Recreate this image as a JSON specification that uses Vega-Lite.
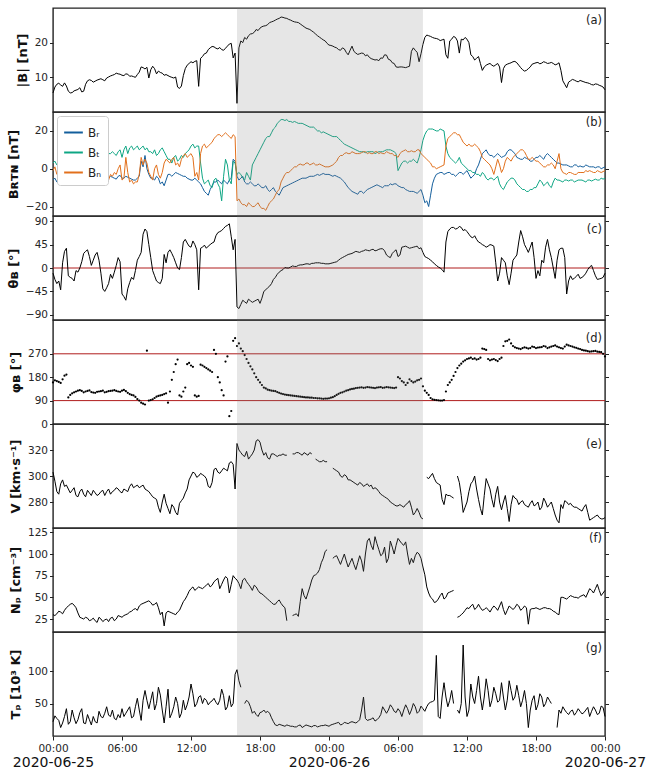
{
"$schema": "https://vega.github.io/schema/vega-lite/v6.json",
"background": "white",
"padding": {"left": 6, "top": 7, "right": 49, "bottom": 5},
"bounds": "flush",
"spacing": 0,
"resolve": {"legend": {"color": "independent"}},
"config": {
  "font": "DejaVu Sans",
  "view": {"stroke": "#222222", "strokeWidth": 1.4},
  "axis": {"labelFont": "DejaVu Sans", "labelFontSize": 10.5, "labelColor": "#262626", "tickColor": "#222222", "tickSize": 3.5, "tickWidth": 1, "domain": false, "grid": false, "titleFont": "DejaVu Sans", "titleFontSize": 13, "titleFontWeight": "bold", "titleColor": "#111111", "titlePadding": 5, "labelPadding": 2}
},
"data": {"values": [
{"t":"2020-06-25T00:00","B":5.5,"R":-6,"T":3,"N":-1,"th":-10,"ph":160,"V":303,"Np":30,"Tp":22},
{"t":"2020-06-25T00:10","B":7.2,"R":-5,"T":4,"N":1,"th":-22,"ph":168,"V":296,"Np":29,"Tp":31},
{"t":"2020-06-25T00:20","B":8.0,"R":-7,"T":2,"N":-3,"th":-30,"ph":165,"V":288,"Np":31,"Tp":27},
{"t":"2020-06-25T00:30","B":8.3,"R":-7.5,"T":1,"N":-4,"th":-25,"ph":162,"V":286,"Np":34,"Tp":24},
{"t":"2020-06-25T00:40","B":7.8,"R":-6.5,"T":0,"N":-2,"th":-42,"ph":158,"V":294,"Np":33,"Tp":13},
{"t":"2020-06-25T00:50","B":7.4,"R":-6,"T":-1,"N":0,"th":10,"ph":172,"V":297,"Np":31,"Tp":20},
{"t":"2020-06-25T01:00","B":8.4,"R":-7,"T":0,"N":-1,"th":32,"ph":186,"V":292,"Np":35,"Tp":30},
{"t":"2020-06-25T01:10","B":7.5,"R":-7.5,"T":0,"N":-3,"th":38,"ph":190,"V":293,"Np":38,"Tp":42},
{"t":"2020-06-25T01:20","B":6.0,"R":-6,"T":1,"N":-2,"th":-15,"ph":102,"V":290,"Np":40,"Tp":18},
{"t":"2020-06-25T01:30","B":5.5,"R":-6,"T":3,"N":-1,"th":-18,"ph":112,"V":287,"Np":42,"Tp":22},
{"t":"2020-06-25T01:40","B":5.6,"R":-7,"T":6,"N":1,"th":-20,"ph":118,"V":289,"Np":43,"Tp":40},
{"t":"2020-06-25T01:50","B":6.1,"R":-7.5,"T":7,"N":2,"th":-25,"ph":122,"V":291,"Np":41,"Tp":28},
{"t":"2020-06-25T02:00","B":6.3,"R":-6,"T":8,"N":0,"th":-5,"ph":125,"V":285,"Np":38,"Tp":19},
{"t":"2020-06-25T02:10","B":6.5,"R":-5.5,"T":9,"N":-2,"th":-8,"ph":128,"V":284,"Np":32,"Tp":25},
{"t":"2020-06-25T02:20","B":7.0,"R":-7,"T":7,"N":-1,"th":0,"ph":130,"V":288,"Np":27,"Tp":36},
{"t":"2020-06-25T02:30","B":5.8,"R":-7,"T":6,"N":1,"th":12,"ph":127,"V":290,"Np":26,"Tp":42},
{"t":"2020-06-25T02:40","B":6.0,"R":-6.5,"T":8,"N":-3,"th":28,"ph":122,"V":286,"Np":25,"Tp":20},
{"t":"2020-06-25T02:50","B":8.0,"R":-6,"T":9,"N":-4,"th":32,"ph":125,"V":284,"Np":27,"Tp":19},
{"t":"2020-06-25T03:00","B":9.0,"R":-7,"T":7,"N":-1,"th":35,"ph":127,"V":289,"Np":26,"Tp":33},
{"t":"2020-06-25T03:10","B":9.3,"R":-7.5,"T":8,"N":-2,"th":22,"ph":129,"V":287,"Np":23,"Tp":25},
{"t":"2020-06-25T03:20","B":9.1,"R":-6,"T":8,"N":-4,"th":5,"ph":123,"V":285,"Np":24,"Tp":17},
{"t":"2020-06-25T03:30","B":8.6,"R":-6.5,"T":6,"N":-6,"th":15,"ph":121,"V":289,"Np":26,"Tp":30},
{"t":"2020-06-25T03:40","B":8.9,"R":-7,"T":7,"N":-5,"th":25,"ph":120,"V":287,"Np":23,"Tp":22},
{"t":"2020-06-25T03:50","B":9.2,"R":-7,"T":8,"N":-4,"th":30,"ph":124,"V":285,"Np":21,"Tp":20},
{"t":"2020-06-25T04:00","B":9.4,"R":-6,"T":8,"N":-6,"th":15,"ph":125,"V":286,"Np":27,"Tp":38},
{"t":"2020-06-25T04:10","B":9.6,"R":-5.5,"T":9,"N":-7,"th":-10,"ph":126,"V":288,"Np":25,"Tp":30},
{"t":"2020-06-25T04:20","B":9.3,"R":-5,"T":7,"N":-5,"th":-40,"ph":128,"V":289,"Np":22,"Tp":28},
{"t":"2020-06-25T04:30","B":9.0,"R":-6.5,"T":6,"N":-4,"th":-45,"ph":122,"V":285,"Np":24,"Tp":35},
{"t":"2020-06-25T04:40","B":9.8,"R":-6,"T":9,"N":-5,"th":-38,"ph":124,"V":288,"Np":25,"Tp":45},
{"t":"2020-06-25T04:50","B":10.1,"R":-5,"T":8,"N":-6,"th":-30,"ph":126,"V":290,"Np":22,"Tp":32},
{"t":"2020-06-25T05:00","B":10.4,"R":-4,"T":8,"N":-3,"th":-12,"ph":127,"V":286,"Np":26,"Tp":30},
{"t":"2020-06-25T05:10","B":10.6,"R":-4.5,"T":9,"N":-4,"th":-20,"ph":128,"V":288,"Np":27,"Tp":40},
{"t":"2020-06-25T05:20","B":10.8,"R":-5,"T":8,"N":-2,"th":-8,"ph":130,"V":289,"Np":23,"Tp":27},
{"t":"2020-06-25T05:30","B":11.2,"R":-5.5,"T":7,"N":-3,"th":5,"ph":127,"V":291,"Np":25,"Tp":25},
{"t":"2020-06-25T05:40","B":11.0,"R":-4,"T":9,"N":0,"th":20,"ph":125,"V":290,"Np":29,"Tp":33},
{"t":"2020-06-25T05:50","B":10.9,"R":-3.5,"T":10,"N":2,"th":12,"ph":124,"V":288,"Np":28,"Tp":28},
{"t":"2020-06-25T06:00","B":10.6,"R":-5,"T":6,"N":-6,"th":-50,"ph":128,"V":287,"Np":27,"Tp":42},
{"t":"2020-06-25T06:10","B":10.5,"R":-5,"T":10,"N":-5,"th":-55,"ph":131,"V":290,"Np":29,"Tp":30},
{"t":"2020-06-25T06:20","B":11.0,"R":-4,"T":12,"N":6,"th":-62,"ph":126,"V":289,"Np":30,"Tp":35},
{"t":"2020-06-25T06:30","B":10.9,"R":-4.5,"T":8,"N":-2,"th":-40,"ph":120,"V":288,"Np":31,"Tp":40},
{"t":"2020-06-25T06:40","B":10.3,"R":-5,"T":11,"N":-7,"th":-28,"ph":115,"V":292,"Np":33,"Tp":45},
{"t":"2020-06-25T06:50","B":10.4,"R":-5.5,"T":12,"N":-6,"th":-18,"ph":112,"V":294,"Np":34,"Tp":28},
{"t":"2020-06-25T07:00","B":10.2,"R":-6,"T":10,"N":-8,"th":-22,"ph":110,"V":291,"Np":36,"Tp":30},
{"t":"2020-06-25T07:10","B":10.0,"R":-6,"T":11,"N":-7,"th":-5,"ph":104,"V":292,"Np":37,"Tp":45},
{"t":"2020-06-25T07:20","B":10.8,"R":-5,"T":12,"N":-7,"th":15,"ph":96,"V":293,"Np":35,"Tp":58},
{"t":"2020-06-25T07:30","B":11.5,"R":-4,"T":10,"N":-3,"th":22,"ph":90,"V":291,"Np":40,"Tp":40},
{"t":"2020-06-25T07:40","B":13.0,"R":4,"T":11,"N":6,"th":30,"ph":82,"V":292,"Np":42,"Tp":24},
{"t":"2020-06-25T07:50","B":12.8,"R":1,"T":12,"N":2,"th":65,"ph":78,"V":293,"Np":43,"Tp":55},
{"t":"2020-06-25T08:00","B":12.4,"R":7,"T":10,"N":5,"th":75,"ph":75,"V":290,"Np":44,"Tp":70},
{"t":"2020-06-25T08:10","B":12.9,"R":0,"T":11,"N":3,"th":70,"ph":282,"V":289,"Np":45,"Tp":55},
{"t":"2020-06-25T08:20","B":9.8,"R":-3,"T":9,"N":-2,"th":45,"ph":90,"V":288,"Np":46,"Tp":42},
{"t":"2020-06-25T08:30","B":12.2,"R":-5,"T":9,"N":-4,"th":20,"ph":92,"V":286,"Np":44,"Tp":55},
{"t":"2020-06-25T08:40","B":13.2,"R":-5,"T":8,"N":-6,"th":-5,"ph":95,"V":284,"Np":41,"Tp":68},
{"t":"2020-06-25T08:50","B":12.5,"R":-6,"T":10,"N":0,"th":-15,"ph":100,"V":283,"Np":42,"Tp":40},
{"t":"2020-06-25T09:00","B":11.0,"R":-4,"T":7,"N":2,"th":-25,"ph":105,"V":282,"Np":44,"Tp":50},
{"t":"2020-06-25T09:10","B":11.8,"R":-5,"T":8,"N":-3,"th":-28,"ph":108,"V":276,"Np":38,"Tp":75},
{"t":"2020-06-25T09:20","B":11.4,"R":-8,"T":10,"N":-5,"th":-30,"ph":110,"V":272,"Np":30,"Tp":63},
{"t":"2020-06-25T09:30","B":11.2,"R":-7,"T":11,"N":-2,"th":-20,"ph":112,"V":280,"Np":33,"Tp":40},
{"t":"2020-06-25T09:40","B":10.6,"R":-9,"T":9,"N":3,"th":26,"ph":115,"V":286,"Np":17,"Tp":20},
{"t":"2020-06-25T09:50","B":10.8,"R":-6,"T":7,"N":5,"th":10,"ph":118,"V":279,"Np":32,"Tp":45},
{"t":"2020-06-25T10:00","B":10.5,"R":-3,"T":5,"N":4,"th":30,"ph":82,"V":275,"Np":34,"Tp":72},
{"t":"2020-06-25T10:10","B":10.2,"R":-3,"T":5,"N":3,"th":35,"ph":125,"V":271,"Np":33,"Tp":28},
{"t":"2020-06-25T10:20","B":10.0,"R":-4,"T":3,"N":5,"th":28,"ph":170,"V":278,"Np":32,"Tp":35},
{"t":"2020-06-25T10:30","B":9.8,"R":-3,"T":6,"N":6,"th":20,"ph":200,"V":276,"Np":31,"Tp":45},
{"t":"2020-06-25T10:40","B":10.1,"R":-2,"T":7,"N":2,"th":10,"ph":230,"V":272,"Np":30,"Tp":60},
{"t":"2020-06-25T10:50","B":7.2,"R":-2.5,"T":4,"N":3,"th":0,"ph":248,"V":270,"Np":33,"Tp":50},
{"t":"2020-06-25T11:00","B":6.8,"R":-3,"T":5,"N":1,"th":-3,"ph":110,"V":279,"Np":35,"Tp":28},
{"t":"2020-06-25T11:10","B":7.5,"R":-3.5,"T":7,"N":5,"th":20,"ph":105,"V":281,"Np":40,"Tp":35},
{"t":"2020-06-25T11:20","B":10.5,"R":-4,"T":6,"N":7,"th":50,"ph":125,"V":283,"Np":45,"Tp":55},
{"t":"2020-06-25T11:30","B":12.5,"R":-4,"T":8,"N":8,"th":55,"ph":140,"V":287,"Np":48,"Tp":40},
{"t":"2020-06-25T11:40","B":13.5,"R":-5,"T":9,"N":6,"th":48,"ph":230,"V":290,"Np":52,"Tp":48},
{"t":"2020-06-25T11:50","B":14.0,"R":-5.5,"T":10,"N":7,"th":42,"ph":235,"V":297,"Np":57,"Tp":60},
{"t":"2020-06-25T12:00","B":14.5,"R":-6,"T":12,"N":8,"th":40,"ph":225,"V":300,"Np":60,"Tp":80},
{"t":"2020-06-25T12:10","B":14.2,"R":-6,"T":13,"N":6,"th":52,"ph":220,"V":303,"Np":62,"Tp":65},
{"t":"2020-06-25T12:20","B":14.6,"R":-5,"T":11,"N":-4,"th":45,"ph":110,"V":302,"Np":58,"Tp":45},
{"t":"2020-06-25T12:30","B":14.8,"R":-6,"T":12,"N":-2,"th":35,"ph":105,"V":299,"Np":60,"Tp":50},
{"t":"2020-06-25T12:40","B":7.4,"R":-7,"T":12,"N":-6,"th":-42,"ph":108,"V":300,"Np":62,"Tp":60},
{"t":"2020-06-25T12:50","B":15.5,"R":-8,"T":3,"N":8,"th":38,"ph":228,"V":302,"Np":61,"Tp":62},
{"t":"2020-06-25T13:00","B":16.0,"R":-10,"T":-5,"N":12,"th":40,"ph":225,"V":301,"Np":60,"Tp":50},
{"t":"2020-06-25T13:10","B":16.8,"R":-12,"T":-8,"N":13,"th":44,"ph":220,"V":300,"Np":62,"Tp":58},
{"t":"2020-06-25T13:20","B":17.0,"R":-13,"T":-7,"N":11,"th":38,"ph":215,"V":298,"Np":64,"Tp":55},
{"t":"2020-06-25T13:30","B":18.0,"R":-14,"T":-6,"N":12,"th":42,"ph":210,"V":292,"Np":66,"Tp":48},
{"t":"2020-06-25T13:40","B":18.5,"R":-11,"T":-9,"N":13,"th":45,"ph":205,"V":291,"Np":62,"Tp":52},
{"t":"2020-06-25T13:50","B":18.9,"R":-9,"T":-10,"N":14,"th":48,"ph":200,"V":295,"Np":64,"Tp":54},
{"t":"2020-06-25T14:00","B":18.8,"R":-7,"T":-6,"N":16,"th":50,"ph":285,"V":305,"Np":68,"Tp":58},
{"t":"2020-06-25T14:10","B":18.4,"R":-7,"T":-5,"N":17,"th":62,"ph":270,"V":306,"Np":70,"Tp":52},
{"t":"2020-06-25T14:20","B":18.2,"R":-6,"T":-8,"N":18,"th":68,"ph":180,"V":303,"Np":72,"Tp":48},
{"t":"2020-06-25T14:30","B":18.6,"R":-7,"T":-10,"N":18,"th":70,"ph":160,"V":302,"Np":60,"Tp":55},
{"t":"2020-06-25T14:40","B":18.0,"R":-8,"T":-17,"N":17,"th":72,"ph":130,"V":304,"Np":65,"Tp":72},
{"t":"2020-06-25T14:50","B":17.8,"R":-6,"T":-4,"N":18,"th":76,"ph":110,"V":306,"Np":70,"Tp":62},
{"t":"2020-06-25T15:00","B":18.4,"R":-7,"T":5,"N":19,"th":80,"ph":240,"V":305,"Np":74,"Tp":40},
{"t":"2020-06-25T15:10","B":19.0,"R":-8,"T":2,"N":18,"th":82,"ph":260,"V":304,"Np":72,"Tp":45},
{"t":"2020-06-25T15:20","B":19.6,"R":-6,"T":-6,"N":17,"th":85,"ph":30,"V":310,"Np":55,"Tp":62},
{"t":"2020-06-25T15:30","B":19.8,"R":-5,"T":-8,"N":16,"th":60,"ph":50,"V":311,"Np":65,"Tp":45},
{"t":"2020-06-25T15:40","B":15.6,"R":5,"T":4,"N":18,"th":35,"ph":320,"V":309,"Np":75,"Tp":50},
{"t":"2020-06-25T15:50","B":17.0,"R":4,"T":3,"N":17,"th":55,"ph":330,"V":290,"Np":72,"Tp":95},
{"t":"2020-06-25T16:00","B":2.5,"R":-4,"T":-3,"N":-17,"th":-75,"ph":300,"V":325,"Np":70,"Tp":102},
{"t":"2020-06-25T16:10","B":18.5,"R":-6,"T":-2,"N":-16,"th":-78,"ph":310,"V":320,"Np":66,"Tp":85},
{"t":"2020-06-25T16:20","B":20.5,"R":-5,"T":-3,"N":-18,"th":-70,"ph":290,"V":318,"Np":60,"Tp":75},
{"t":"2020-06-25T16:30","B":20.0,"R":-4,"T":-5,"N":-19,"th":-62,"ph":280,"V":316,"Np":70,"Tp":null},
{"t":"2020-06-25T16:40","B":21.5,"R":-7,"T":-6,"N":-19,"th":-65,"ph":265,"V":315,"Np":72,"Tp":50},
{"t":"2020-06-25T16:50","B":21.0,"R":-8,"T":-2,"N":-20,"th":-68,"ph":250,"V":319,"Np":68,"Tp":55},
{"t":"2020-06-25T17:00","B":22.0,"R":-8,"T":-4,"N":-18,"th":-60,"ph":235,"V":313,"Np":65,"Tp":52},
{"t":"2020-06-25T17:10","B":22.5,"R":-7,"T":-6,"N":-19,"th":-63,"ph":222,"V":315,"Np":62,"Tp":45},
{"t":"2020-06-25T17:20","B":22.6,"R":-8,"T":2,"N":-20,"th":-66,"ph":210,"V":317,"Np":58,"Tp":35},
{"t":"2020-06-25T17:30","B":23.0,"R":-9,"T":4,"N":-20,"th":-64,"ph":195,"V":320,"Np":64,"Tp":38},
{"t":"2020-06-25T17:40","B":23.8,"R":-9,"T":6,"N":-19,"th":-62,"ph":180,"V":327,"Np":62,"Tp":33},
{"t":"2020-06-25T17:50","B":23.5,"R":-8,"T":8,"N":-18,"th":-60,"ph":170,"V":328,"Np":58,"Tp":30},
{"t":"2020-06-25T18:00","B":24.2,"R":-9,"T":10,"N":-20,"th":-68,"ph":160,"V":326,"Np":55,"Tp":36},
{"t":"2020-06-25T18:10","B":24.6,"R":-10,"T":12,"N":-21,"th":-58,"ph":150,"V":320,"Np":54,"Tp":37},
{"t":"2020-06-25T18:20","B":24.8,"R":-10,"T":14,"N":-21,"th":-45,"ph":140,"V":316,"Np":52,"Tp":40},
{"t":"2020-06-25T18:30","B":24.9,"R":-9,"T":16,"N":-22,"th":-42,"ph":137,"V":318,"Np":50,"Tp":36},
{"t":"2020-06-25T18:40","B":25.2,"R":-11,"T":17,"N":-20,"th":-38,"ph":132,"V":314,"Np":48,"Tp":38},
{"t":"2020-06-25T18:50","B":25.8,"R":-12,"T":17,"N":-18,"th":-35,"ph":130,"V":313,"Np":46,"Tp":35},
{"t":"2020-06-25T19:00","B":26.0,"R":-11,"T":19,"N":-17,"th":-30,"ph":128,"V":317,"Np":44,"Tp":28},
{"t":"2020-06-25T19:10","B":26.2,"R":-10,"T":21,"N":-16,"th":-22,"ph":127,"V":317,"Np":42,"Tp":22},
{"t":"2020-06-25T19:20","B":26.5,"R":-12,"T":22,"N":-14,"th":-18,"ph":126,"V":316,"Np":42,"Tp":17},
{"t":"2020-06-25T19:30","B":26.8,"R":-13,"T":24,"N":-12,"th":-12,"ph":123,"V":315,"Np":45,"Tp":16},
{"t":"2020-06-25T19:40","B":27.0,"R":-14,"T":25,"N":-11,"th":-8,"ph":120,"V":316,"Np":47,"Tp":18},
{"t":"2020-06-25T19:50","B":27.4,"R":-12,"T":26,"N":-7,"th":-5,"ph":117,"V":316,"Np":43,"Tp":17},
{"t":"2020-06-25T20:00","B":27.3,"R":-10,"T":26,"N":-5,"th":-3,"ph":115,"V":317,"Np":40,"Tp":16},
{"t":"2020-06-25T20:10","B":27.1,"R":-9.5,"T":25.5,"N":-3,"th":1,"ph":113,"V":316,"Np":38,"Tp":15},
{"t":"2020-06-25T20:20","B":27.0,"R":-9,"T":26,"N":-2,"th":0,"ph":112,"V":316,"Np":23,"Tp":17},
{"t":"2020-06-25T20:30","B":26.7,"R":-8.5,"T":25,"N":-2,"th":0,"ph":111,"V":null,"Np":null,"Tp":16},
{"t":"2020-06-25T20:40","B":26.5,"R":-8,"T":25,"N":-1,"th":2,"ph":110,"V":null,"Np":null,"Tp":15},
{"t":"2020-06-25T20:50","B":26.2,"R":-7.5,"T":24.5,"N":0,"th":4,"ph":109,"V":317,"Np":29,"Tp":15},
{"t":"2020-06-25T21:00","B":26.0,"R":-7,"T":25,"N":1,"th":3,"ph":108,"V":317,"Np":30,"Tp":14},
{"t":"2020-06-25T21:10","B":25.9,"R":-6.5,"T":24.5,"N":1,"th":3,"ph":107,"V":318,"Np":31,"Tp":14},
{"t":"2020-06-25T21:20","B":25.8,"R":-6,"T":24,"N":2,"th":5,"ph":106,"V":318,"Np":28,"Tp":16},
{"t":"2020-06-25T21:30","B":25.4,"R":-5.5,"T":24,"N":2.5,"th":6,"ph":105,"V":317,"Np":45,"Tp":17},
{"t":"2020-06-25T21:40","B":25.0,"R":-5,"T":24,"N":2,"th":6,"ph":104,"V":316,"Np":60,"Tp":13},
{"t":"2020-06-25T21:50","B":24.6,"R":-5,"T":23.5,"N":2,"th":7,"ph":103,"V":318,"Np":52,"Tp":15},
{"t":"2020-06-25T22:00","B":24.2,"R":-5,"T":23,"N":3,"th":8,"ph":102,"V":317,"Np":48,"Tp":17},
{"t":"2020-06-25T22:10","B":24.0,"R":-4.5,"T":22.5,"N":3,"th":8,"ph":102,"V":316,"Np":55,"Tp":16},
{"t":"2020-06-25T22:20","B":23.8,"R":-4,"T":22,"N":2,"th":7,"ph":101,"V":318,"Np":62,"Tp":15},
{"t":"2020-06-25T22:30","B":23.4,"R":-4,"T":22,"N":2.5,"th":9,"ph":101,"V":317,"Np":70,"Tp":14},
{"t":"2020-06-25T22:40","B":23.0,"R":-4,"T":22,"N":3,"th":9,"ph":100,"V":null,"Np":75,"Tp":16},
{"t":"2020-06-25T22:50","B":22.5,"R":-3.5,"T":21,"N":2,"th":10,"ph":100,"V":313,"Np":76,"Tp":16},
{"t":"2020-06-25T23:00","B":22.0,"R":-3,"T":20,"N":2,"th":10,"ph":99,"V":312,"Np":78,"Tp":14},
{"t":"2020-06-25T23:10","B":21.6,"R":-3.5,"T":20,"N":2.5,"th":10,"ph":99,"V":311,"Np":82,"Tp":15},
{"t":"2020-06-25T23:20","B":21.2,"R":-3,"T":19,"N":2,"th":9,"ph":98,"V":311,"Np":90,"Tp":16},
{"t":"2020-06-25T23:30","B":20.8,"R":-2.5,"T":19.5,"N":1.5,"th":9,"ph":97,"V":312,"Np":95,"Tp":16},
{"t":"2020-06-25T23:40","B":20.5,"R":-3,"T":19,"N":1,"th":8,"ph":98,"V":311,"Np":103,"Tp":17},
{"t":"2020-06-25T23:50","B":19.8,"R":-3,"T":18.5,"N":1,"th":8,"ph":98,"V":311,"Np":105,"Tp":16},
{"t":"2020-06-26T00:00","B":19.3,"R":-3,"T":18,"N":1,"th":8,"ph":99,"V":null,"Np":null,"Tp":15},
{"t":"2020-06-26T00:10","B":19.2,"R":-3.5,"T":17.5,"N":1.5,"th":9,"ph":101,"V":null,"Np":null,"Tp":17},
{"t":"2020-06-26T00:20","B":19.0,"R":-4,"T":17,"N":2,"th":10,"ph":103,"V":306,"Np":95,"Tp":18},
{"t":"2020-06-26T00:30","B":18.7,"R":-3.5,"T":17,"N":3,"th":11,"ph":107,"V":305,"Np":97,"Tp":19},
{"t":"2020-06-26T00:40","B":18.5,"R":-4,"T":17,"N":4,"th":12,"ph":112,"V":304,"Np":98,"Tp":20},
{"t":"2020-06-26T00:50","B":18.0,"R":-4.5,"T":16,"N":6,"th":15,"ph":116,"V":303,"Np":93,"Tp":21},
{"t":"2020-06-26T01:00","B":17.8,"R":-5,"T":15,"N":7,"th":18,"ph":120,"V":300,"Np":88,"Tp":17},
{"t":"2020-06-26T01:10","B":18.5,"R":-6,"T":14,"N":7,"th":20,"ph":122,"V":299,"Np":94,"Tp":18},
{"t":"2020-06-26T01:20","B":18.2,"R":-7,"T":13,"N":8,"th":22,"ph":125,"V":301,"Np":100,"Tp":21},
{"t":"2020-06-26T01:30","B":17.2,"R":-8.5,"T":12.5,"N":8.5,"th":24,"ph":128,"V":300,"Np":92,"Tp":20},
{"t":"2020-06-26T01:40","B":16.5,"R":-10,"T":12,"N":8,"th":26,"ph":130,"V":297,"Np":85,"Tp":19},
{"t":"2020-06-26T01:50","B":17.8,"R":-11,"T":11.5,"N":8,"th":27,"ph":133,"V":297,"Np":90,"Tp":21},
{"t":"2020-06-26T02:00","B":19.0,"R":-12,"T":11,"N":9,"th":28,"ph":135,"V":296,"Np":95,"Tp":22},
{"t":"2020-06-26T02:10","B":17.5,"R":-12.5,"T":10.5,"N":8.5,"th":30,"ph":136,"V":295,"Np":88,"Tp":21},
{"t":"2020-06-26T02:20","B":17.0,"R":-13,"T":10,"N":8,"th":32,"ph":138,"V":294,"Np":82,"Tp":20},
{"t":"2020-06-26T02:30","B":16.6,"R":-13.5,"T":9.5,"N":8,"th":31,"ph":139,"V":293,"Np":90,"Tp":22},
{"t":"2020-06-26T02:40","B":16.8,"R":-12,"T":9,"N":8,"th":30,"ph":140,"V":295,"Np":98,"Tp":25},
{"t":"2020-06-26T02:50","B":17.0,"R":-12,"T":9,"N":8.5,"th":32,"ph":141,"V":294,"Np":92,"Tp":40},
{"t":"2020-06-26T03:00","B":16.9,"R":-13,"T":9,"N":9,"th":33,"ph":139,"V":292,"Np":80,"Tp":60},
{"t":"2020-06-26T03:10","B":16.2,"R":-12,"T":8.5,"N":9,"th":35,"ph":140,"V":293,"Np":100,"Tp":27},
{"t":"2020-06-26T03:20","B":16.5,"R":-11,"T":9,"N":8,"th":34,"ph":142,"V":294,"Np":115,"Tp":24},
{"t":"2020-06-26T03:30","B":15.8,"R":-10.5,"T":9,"N":8.5,"th":33,"ph":141,"V":292,"Np":118,"Tp":25},
{"t":"2020-06-26T03:40","B":15.4,"R":-10,"T":9,"N":8,"th":35,"ph":140,"V":293,"Np":110,"Tp":26},
{"t":"2020-06-26T03:50","B":15.2,"R":-9.5,"T":9,"N":8,"th":36,"ph":139,"V":290,"Np":105,"Tp":28},
{"t":"2020-06-26T04:00","B":15.0,"R":-9,"T":8,"N":9,"th":33,"ph":138,"V":291,"Np":120,"Tp":23},
{"t":"2020-06-26T04:10","B":15.1,"R":-8.5,"T":8.5,"N":9,"th":34,"ph":140,"V":290,"Np":112,"Tp":25},
{"t":"2020-06-26T04:20","B":14.8,"R":-9,"T":9,"N":8,"th":36,"ph":141,"V":288,"Np":105,"Tp":28},
{"t":"2020-06-26T04:30","B":15.6,"R":-9.5,"T":9,"N":8.5,"th":37,"ph":142,"V":286,"Np":98,"Tp":33},
{"t":"2020-06-26T04:40","B":15.5,"R":-10,"T":9,"N":8,"th":37,"ph":139,"V":285,"Np":100,"Tp":45},
{"t":"2020-06-26T04:50","B":16.5,"R":-9,"T":9.5,"N":8,"th":33,"ph":140,"V":284,"Np":108,"Tp":40},
{"t":"2020-06-26T05:00","B":16.4,"R":-9,"T":10,"N":9,"th":25,"ph":142,"V":283,"Np":90,"Tp":35},
{"t":"2020-06-26T05:10","B":15.2,"R":-9,"T":10,"N":8.5,"th":22,"ph":141,"V":282,"Np":95,"Tp":40},
{"t":"2020-06-26T05:20","B":15.0,"R":-8,"T":10,"N":8,"th":20,"ph":140,"V":280,"Np":115,"Tp":48},
{"t":"2020-06-26T05:30","B":14.2,"R":-8.5,"T":9.5,"N":8,"th":28,"ph":139,"V":279,"Np":108,"Tp":44},
{"t":"2020-06-26T05:40","B":14.0,"R":-8,"T":9,"N":7,"th":32,"ph":138,"V":278,"Np":100,"Tp":38},
{"t":"2020-06-26T05:50","B":13.0,"R":-8,"T":8,"N":7,"th":35,"ph":140,"V":277,"Np":110,"Tp":36},
{"t":"2020-06-26T06:00","B":12.9,"R":-9,"T":-1,"N":6,"th":22,"ph":180,"V":277,"Np":118,"Tp":42},
{"t":"2020-06-26T06:10","B":13.0,"R":-9.5,"T":1,"N":8,"th":25,"ph":175,"V":278,"Np":115,"Tp":38},
{"t":"2020-06-26T06:20","B":13.0,"R":-10,"T":3,"N":9,"th":40,"ph":165,"V":277,"Np":112,"Tp":30},
{"t":"2020-06-26T06:30","B":12.9,"R":-10,"T":4,"N":9.5,"th":41,"ph":160,"V":276,"Np":110,"Tp":40},
{"t":"2020-06-26T06:40","B":12.8,"R":-11,"T":4,"N":10,"th":42,"ph":150,"V":278,"Np":114,"Tp":48},
{"t":"2020-06-26T06:50","B":13.0,"R":-11.5,"T":3,"N":9,"th":40,"ph":158,"V":279,"Np":100,"Tp":42},
{"t":"2020-06-26T07:00","B":13.2,"R":-12,"T":4,"N":9,"th":38,"ph":172,"V":281,"Np":88,"Tp":33},
{"t":"2020-06-26T07:10","B":17.5,"R":-12,"T":4,"N":9.5,"th":39,"ph":165,"V":276,"Np":95,"Tp":40},
{"t":"2020-06-26T07:20","B":18.5,"R":-12,"T":5,"N":9,"th":40,"ph":160,"V":270,"Np":90,"Tp":50},
{"t":"2020-06-26T07:30","B":17.8,"R":-12.5,"T":4,"N":9,"th":41,"ph":163,"V":272,"Np":98,"Tp":45},
{"t":"2020-06-26T07:40","B":17.2,"R":-13,"T":3,"N":10,"th":42,"ph":168,"V":275,"Np":102,"Tp":35},
{"t":"2020-06-26T07:50","B":14.5,"R":-12,"T":6,"N":10,"th":37,"ph":170,"V":272,"Np":100,"Tp":38},
{"t":"2020-06-26T08:00","B":16.8,"R":-11,"T":10,"N":8,"th":39,"ph":175,"V":268,"Np":95,"Tp":46},
{"t":"2020-06-26T08:10","B":19.5,"R":-14,"T":15,"N":7,"th":30,"ph":145,"V":267,"Np":85,"Tp":42},
{"t":"2020-06-26T08:20","B":21.5,"R":-18,"T":18,"N":6,"th":22,"ph":128,"V":null,"Np":76,"Tp":38},
{"t":"2020-06-26T08:30","B":22.2,"R":-17,"T":20,"N":5,"th":20,"ph":120,"V":299,"Np":62,"Tp":45},
{"t":"2020-06-26T08:40","B":22.0,"R":-20,"T":21,"N":4,"th":18,"ph":112,"V":298,"Np":55,"Tp":50},
{"t":"2020-06-26T08:50","B":21.8,"R":-14,"T":21,"N":3,"th":15,"ph":100,"V":300,"Np":50,"Tp":52},
{"t":"2020-06-26T09:00","B":21.5,"R":-8,"T":21,"N":1,"th":12,"ph":95,"V":302,"Np":48,"Tp":53},
{"t":"2020-06-26T09:10","B":21.3,"R":-5,"T":20.5,"N":1,"th":8,"ph":93,"V":298,"Np":44,"Tp":55},
{"t":"2020-06-26T09:20","B":21.2,"R":-3,"T":20,"N":0,"th":5,"ph":92,"V":295,"Np":45,"Tp":124},
{"t":"2020-06-26T09:30","B":21.0,"R":-2.5,"T":20,"N":0.5,"th":2,"ph":91,"V":294,"Np":48,"Tp":30},
{"t":"2020-06-26T09:40","B":20.6,"R":-2,"T":21,"N":1,"th":0,"ph":90,"V":293,"Np":52,"Tp":27},
{"t":"2020-06-26T09:50","B":20.8,"R":-2,"T":20.5,"N":1.5,"th":-3,"ph":90,"V":282,"Np":55,"Tp":60},
{"t":"2020-06-26T10:00","B":21.0,"R":-3,"T":20,"N":2,"th":-8,"ph":92,"V":278,"Np":48,"Tp":82},
{"t":"2020-06-26T10:10","B":16.5,"R":-2.5,"T":12,"N":12,"th":50,"ph":125,"V":286,"Np":50,"Tp":60},
{"t":"2020-06-26T10:20","B":15.5,"R":-2,"T":8,"N":16,"th":70,"ph":150,"V":285,"Np":55,"Tp":45},
{"t":"2020-06-26T10:30","B":20.5,"R":-2,"T":6,"N":17,"th":75,"ph":160,"V":285,"Np":56,"Tp":55},
{"t":"2020-06-26T10:40","B":21.0,"R":-3,"T":5,"N":18,"th":78,"ph":170,"V":284,"Np":57,"Tp":70},
{"t":"2020-06-26T10:50","B":21.8,"R":-3,"T":4,"N":19,"th":78,"ph":185,"V":283,"Np":58,"Tp":50},
{"t":"2020-06-26T11:00","B":21.5,"R":-4,"T":3,"N":19,"th":75,"ph":200,"V":null,"Np":null,"Tp":null},
{"t":"2020-06-26T11:10","B":20.5,"R":-3,"T":4,"N":18,"th":76,"ph":215,"V":300,"Np":27,"Tp":40},
{"t":"2020-06-26T11:20","B":17.0,"R":-2,"T":6,"N":18,"th":80,"ph":225,"V":295,"Np":28,"Tp":35},
{"t":"2020-06-26T11:30","B":21.0,"R":-2,"T":3,"N":16,"th":78,"ph":232,"V":285,"Np":30,"Tp":50},
{"t":"2020-06-26T11:40","B":20.8,"R":-3,"T":2,"N":14,"th":72,"ph":240,"V":272,"Np":32,"Tp":140},
{"t":"2020-06-26T11:50","B":21.5,"R":-2,"T":1,"N":13,"th":74,"ph":245,"V":276,"Np":35,"Tp":60},
{"t":"2020-06-26T12:00","B":21.0,"R":-1,"T":0,"N":12,"th":70,"ph":250,"V":280,"Np":38,"Tp":30},
{"t":"2020-06-26T12:10","B":20.0,"R":-3,"T":-1,"N":13,"th":65,"ph":252,"V":288,"Np":37,"Tp":40},
{"t":"2020-06-26T12:20","B":16.5,"R":-5,"T":-1,"N":12,"th":60,"ph":255,"V":294,"Np":40,"Tp":80},
{"t":"2020-06-26T12:30","B":16.0,"R":-4,"T":-2,"N":12,"th":58,"ph":250,"V":296,"Np":42,"Tp":60},
{"t":"2020-06-26T12:40","B":15.0,"R":-3,"T":-2,"N":13,"th":62,"ph":252,"V":300,"Np":36,"Tp":50},
{"t":"2020-06-26T12:50","B":15.5,"R":0,"T":-3,"N":12,"th":55,"ph":248,"V":290,"Np":38,"Tp":70},
{"t":"2020-06-26T13:00","B":16.0,"R":2,"T":-3,"N":11,"th":50,"ph":250,"V":282,"Np":42,"Tp":92},
{"t":"2020-06-26T13:10","B":14.0,"R":5,"T":-4,"N":9,"th":48,"ph":255,"V":275,"Np":38,"Tp":60},
{"t":"2020-06-26T13:20","B":12.0,"R":8,"T":-2,"N":6,"th":45,"ph":290,"V":270,"Np":35,"Tp":40},
{"t":"2020-06-26T13:30","B":13.0,"R":9,"T":-3,"N":5,"th":43,"ph":288,"V":285,"Np":36,"Tp":60},
{"t":"2020-06-26T13:40","B":13.5,"R":10,"T":-5,"N":4,"th":40,"ph":285,"V":298,"Np":38,"Tp":88},
{"t":"2020-06-26T13:50","B":13.8,"R":8,"T":-6,"N":3,"th":42,"ph":250,"V":294,"Np":36,"Tp":70},
{"t":"2020-06-26T14:00","B":14.0,"R":7,"T":-5,"N":2,"th":45,"ph":245,"V":290,"Np":33,"Tp":45},
{"t":"2020-06-26T14:10","B":13.5,"R":7,"T":-5,"N":0,"th":44,"ph":248,"V":282,"Np":37,"Tp":55},
{"t":"2020-06-26T14:20","B":13.2,"R":6,"T":-6,"N":-3,"th":42,"ph":250,"V":276,"Np":40,"Tp":75},
{"t":"2020-06-26T14:30","B":13.6,"R":7,"T":-5,"N":1,"th":10,"ph":246,"V":286,"Np":38,"Tp":65},
{"t":"2020-06-26T14:40","B":14.0,"R":8,"T":-4,"N":5,"th":-25,"ph":242,"V":292,"Np":35,"Tp":52},
{"t":"2020-06-26T14:50","B":13.0,"R":7,"T":-8,"N":2,"th":-10,"ph":250,"V":280,"Np":40,"Tp":55},
{"t":"2020-06-26T15:00","B":8.5,"R":6,"T":-10,"N":-2,"th":20,"ph":255,"V":274,"Np":45,"Tp":82},
{"t":"2020-06-26T15:10","B":12.5,"R":6.5,"T":-11,"N":0,"th":15,"ph":300,"V":280,"Np":36,"Tp":60},
{"t":"2020-06-26T15:20","B":13.5,"R":7,"T":-9,"N":4,"th":10,"ph":318,"V":285,"Np":30,"Tp":40},
{"t":"2020-06-26T15:30","B":13.8,"R":9,"T":-7,"N":6,"th":-15,"ph":320,"V":275,"Np":35,"Tp":55},
{"t":"2020-06-26T15:40","B":14.0,"R":10,"T":-6,"N":5,"th":-32,"ph":325,"V":265,"Np":40,"Tp":85},
{"t":"2020-06-26T15:50","B":14.2,"R":10,"T":-5,"N":4,"th":-10,"ph":310,"V":278,"Np":38,"Tp":70},
{"t":"2020-06-26T16:00","B":14.5,"R":9,"T":-5,"N":6,"th":15,"ph":300,"V":285,"Np":36,"Tp":55},
{"t":"2020-06-26T16:10","B":14.6,"R":8,"T":-6,"N":7,"th":20,"ph":295,"V":283,"Np":38,"Tp":60},
{"t":"2020-06-26T16:20","B":14.2,"R":6,"T":-8,"N":8,"th":25,"ph":292,"V":282,"Np":42,"Tp":78},
{"t":"2020-06-26T16:30","B":13.5,"R":5.5,"T":-9,"N":9,"th":50,"ph":290,"V":278,"Np":40,"Tp":62},
{"t":"2020-06-26T16:40","B":12.8,"R":5,"T":-10,"N":10,"th":72,"ph":288,"V":280,"Np":35,"Tp":45},
{"t":"2020-06-26T16:50","B":12.2,"R":5,"T":-11,"N":10,"th":60,"ph":292,"V":281,"Np":37,"Tp":55},
{"t":"2020-06-26T17:00","B":11.8,"R":6,"T":-11,"N":9,"th":45,"ph":295,"V":278,"Np":40,"Tp":70},
{"t":"2020-06-26T17:10","B":12.0,"R":5.5,"T":-12,"N":7,"th":38,"ph":293,"V":277,"Np":38,"Tp":50},
{"t":"2020-06-26T17:20","B":12.5,"R":5,"T":-12,"N":5,"th":30,"ph":290,"V":276,"Np":19,"Tp":13},
{"t":"2020-06-26T17:30","B":13.0,"R":4,"T":-11,"N":5,"th":40,"ph":292,"V":279,"Np":36,"Tp":40},
{"t":"2020-06-26T17:40","B":13.8,"R":4,"T":-11,"N":6,"th":50,"ph":298,"V":281,"Np":37,"Tp":55},
{"t":"2020-06-26T17:50","B":14.0,"R":5,"T":-10,"N":5,"th":20,"ph":296,"V":277,"Np":37,"Tp":62},
{"t":"2020-06-26T18:00","B":14.2,"R":6,"T":-10,"N":4,"th":-20,"ph":292,"V":278,"Np":38,"Tp":40},
{"t":"2020-06-26T18:10","B":14.3,"R":6,"T":-8,"N":4,"th":-5,"ph":294,"V":280,"Np":37,"Tp":48},
{"t":"2020-06-26T18:20","B":13.9,"R":7,"T":-6,"N":3,"th":-15,"ph":295,"V":274,"Np":36,"Tp":65},
{"t":"2020-06-26T18:30","B":14.1,"R":6,"T":-7,"N":2,"th":15,"ph":296,"V":276,"Np":37,"Tp":60},
{"t":"2020-06-26T18:40","B":14.5,"R":5,"T":-9,"N":1,"th":10,"ph":300,"V":283,"Np":38,"Tp":45},
{"t":"2020-06-26T18:50","B":14.3,"R":7,"T":-8,"N":1,"th":40,"ph":298,"V":280,"Np":38,"Tp":50},
{"t":"2020-06-26T19:00","B":14.0,"R":8,"T":-7,"N":2,"th":55,"ph":292,"V":276,"Np":37,"Tp":60},
{"t":"2020-06-26T19:10","B":14.1,"R":7,"T":-9,"N":2,"th":35,"ph":295,"V":278,"Np":37,"Tp":55},
{"t":"2020-06-26T19:20","B":14.3,"R":6,"T":-10,"N":3,"th":20,"ph":298,"V":280,"Np":36,"Tp":50},
{"t":"2020-06-26T19:30","B":14.0,"R":5,"T":-7,"N":2,"th":0,"ph":300,"V":275,"Np":34,"Tp":null},
{"t":"2020-06-26T19:40","B":13.6,"R":4,"T":-5,"N":0,"th":-20,"ph":302,"V":270,"Np":33,"Tp":null},
{"t":"2020-06-26T19:50","B":13.8,"R":3,"T":-6,"N":4,"th":15,"ph":298,"V":266,"Np":31,"Tp":13},
{"t":"2020-06-26T20:00","B":14.2,"R":3,"T":-6,"N":8,"th":35,"ph":295,"V":264,"Np":30,"Tp":40},
{"t":"2020-06-26T20:10","B":12.0,"R":2.5,"T":-6.5,"N":0,"th":38,"ph":292,"V":278,"Np":50,"Tp":35},
{"t":"2020-06-26T20:20","B":9.0,"R":2,"T":-7,"N":-2,"th":38,"ph":290,"V":275,"Np":50,"Tp":45},
{"t":"2020-06-26T20:30","B":8.0,"R":2,"T":-6,"N":-2.5,"th":20,"ph":298,"V":281,"Np":49,"Tp":40},
{"t":"2020-06-26T20:40","B":7.0,"R":2,"T":-6,"N":-3,"th":-50,"ph":305,"V":280,"Np":48,"Tp":36},
{"t":"2020-06-26T20:50","B":8.6,"R":1.5,"T":-6.5,"N":-2,"th":-25,"ph":302,"V":278,"Np":50,"Tp":33},
{"t":"2020-06-26T21:00","B":9.0,"R":1,"T":-6,"N":-2,"th":-15,"ph":300,"V":279,"Np":52,"Tp":38},
{"t":"2020-06-26T21:10","B":9.4,"R":1,"T":-6,"N":-2.5,"th":-22,"ph":298,"V":277,"Np":51,"Tp":40},
{"t":"2020-06-26T21:20","B":9.2,"R":2,"T":-7,"N":-3,"th":-20,"ph":295,"V":276,"Np":50,"Tp":32},
{"t":"2020-06-26T21:30","B":8.9,"R":2,"T":-6.5,"N":-3,"th":-16,"ph":293,"V":276,"Np":50,"Tp":36},
{"t":"2020-06-26T21:40","B":8.7,"R":1,"T":-6,"N":-2,"th":-12,"ph":290,"V":275,"Np":49,"Tp":42},
{"t":"2020-06-26T21:50","B":9.1,"R":1.5,"T":-6,"N":-2,"th":-20,"ph":288,"V":274,"Np":51,"Tp":38},
{"t":"2020-06-26T22:00","B":8.9,"R":1,"T":-6,"N":-2,"th":-18,"ph":285,"V":273,"Np":52,"Tp":34},
{"t":"2020-06-26T22:10","B":8.7,"R":1,"T":-6.5,"N":-2,"th":-15,"ph":283,"V":276,"Np":53,"Tp":36},
{"t":"2020-06-26T22:20","B":8.5,"R":2,"T":-7,"N":-1,"th":-10,"ph":282,"V":278,"Np":50,"Tp":40},
{"t":"2020-06-26T22:30","B":8.4,"R":1.5,"T":-6,"N":-1.5,"th":-3,"ph":280,"V":272,"Np":55,"Tp":44},
{"t":"2020-06-26T22:40","B":8.2,"R":1,"T":-6,"N":-1,"th":2,"ph":278,"V":266,"Np":60,"Tp":30},
{"t":"2020-06-26T22:50","B":7.9,"R":1,"T":-6.5,"N":-1.5,"th":5,"ph":279,"V":267,"Np":58,"Tp":38},
{"t":"2020-06-26T23:00","B":7.8,"R":1,"T":-6,"N":-2,"th":-5,"ph":280,"V":268,"Np":55,"Tp":45},
{"t":"2020-06-26T23:10","B":8.1,"R":0.5,"T":-5.5,"N":-2,"th":-15,"ph":281,"V":269,"Np":60,"Tp":40},
{"t":"2020-06-26T23:20","B":8.0,"R":1,"T":-6,"N":-1,"th":-22,"ph":278,"V":270,"Np":65,"Tp":33},
{"t":"2020-06-26T23:30","B":7.7,"R":1,"T":-6,"N":-1.5,"th":-21,"ph":277,"V":268,"Np":58,"Tp":35},
{"t":"2020-06-26T23:40","B":7.5,"R":0,"T":-5,"N":-2,"th":-20,"ph":276,"V":267,"Np":52,"Tp":46},
{"t":"2020-06-26T23:50","B":7.2,"R":0.5,"T":-5.5,"N":-1.5,"th":-18,"ph":270,"V":267,"Np":55,"Tp":44},
{"t":"2020-06-27T00:00","B":6.4,"R":1,"T":-5,"N":-1,"th":-10,"ph":260,"V":268,"Np":58,"Tp":30}
]},
"vconcat": [
{
 "width": 552, "height": 104,
 "layer": [
  {"mark": {"type": "line", "color": "black", "strokeWidth": 1, "invalid": "break-paths-filter-domains"},
   "encoding": {
    "x": {"field": "t", "type": "temporal", "scale": {"domain": [{"year": 2020, "month": 6, "date": 25}, {"year": 2020, "month": 6, "date": 27}]}, "axis": null},
    "y": {"field": "B", "type": "quantitative", "scale": {"domain": [1.2, 28.8]}, "axis": {"values": [10, 20], "title": "|B| [nT]"}}}},
  {"data": {"values": [{}]}, "mark": {"type": "rect", "color": "gray", "opacity": 0.2},
   "encoding": {"x": {"datum": {"year": 2020, "month": 6, "date": 25, "hours": 16}, "axis": null}, "x2": {"datum": {"year": 2020, "month": 6, "date": 26, "hours": 8, "minutes": 10}}}},
  {"data": {"values": [{}]}, "mark": {"type": "text", "align": "right", "baseline": "top", "dx": -3, "dy": 3, "fontSize": 11.5, "color": "#222"},
   "encoding": {"x": {"datum": {"year": 2020, "month": 6, "date": 27}, "axis": null}, "y": {"datum": 28.8, "axis": {"orient": "right", "labels": false, "title": null, "values": [10, 20]}}, "text": {"value": "(a)"}}}
 ],
 "resolve": {"axis": {"y": "independent"}}
},
{
 "width": 552, "height": 104,
 "layer": [
  {"transform": [{"fold": ["R", "T", "N"], "as": ["c", "v"]}],
   "mark": {"type": "line", "strokeWidth": 1},
   "encoding": {
    "x": {"field": "t", "type": "temporal", "scale": {"domain": [{"year": 2020, "month": 6, "date": 25}, {"year": 2020, "month": 6, "date": 27}]}, "axis": null},
    "y": {"field": "v", "type": "quantitative", "scale": {"domain": [-25, 28.7]}, "axis": {"values": [-20, 0, 20], "title": "Bʀᴛɴ [nT]"}},
    "color": {"field": "c", "type": "nominal", "scale": {"domain": ["R", "T", "N"], "range": ["#135e9c", "#0ea684", "#e2701c"]},
      "legend": {"orient": "top-left", "offset": 4, "title": null, "symbolType": "stroke", "symbolStrokeWidth": 2, "symbolSize": 350, "labelFontSize": 12, "labelFont": "DejaVu Sans", "labelColor": "#222", "strokeColor": "#cccccc", "fillColor": "white", "padding": 6, "cornerRadius": 3, "rowPadding": 3,
        "labelExpr": "datum.label == 'R' ? 'Bᵣ' : datum.label == 'T' ? 'Bₜ' : 'Bₙ'"}}}},
  {"data": {"values": [{}]}, "mark": {"type": "rect", "color": "gray", "opacity": 0.2},
   "encoding": {"x": {"datum": {"year": 2020, "month": 6, "date": 25, "hours": 16}, "axis": null}, "x2": {"datum": {"year": 2020, "month": 6, "date": 26, "hours": 8, "minutes": 10}}}},
  {"data": {"values": [{}]}, "mark": {"type": "text", "align": "right", "baseline": "top", "dx": -3, "dy": 3, "fontSize": 11.5, "color": "#222"},
   "encoding": {"x": {"datum": {"year": 2020, "month": 6, "date": 27}, "axis": null}, "y": {"datum": 28.7, "axis": {"orient": "right", "labels": false, "title": null, "values": [-20, 0, 20]}}, "text": {"value": "(b)"}}}
 ],
 "resolve": {"axis": {"y": "independent"}}
},
{
 "width": 552, "height": 104,
 "layer": [
  {"data": {"values": [{}]}, "mark": {"type": "rule", "color": "#b01c1c", "strokeWidth": 1},
   "encoding": {"y": {"datum": 0, "axis": null}}},
  {"mark": {"type": "line", "color": "black", "strokeWidth": 1},
   "encoding": {
    "x": {"field": "t", "type": "temporal", "scale": {"domain": [{"year": 2020, "month": 6, "date": 25}, {"year": 2020, "month": 6, "date": 27}]}, "axis": null},
    "y": {"field": "th", "type": "quantitative", "scale": {"domain": [-90, 90]}, "axis": {"values": [-90, -45, 0, 45, 90], "title": "θʙ [°]"}}}},
  {"data": {"values": [{}]}, "mark": {"type": "rect", "color": "gray", "opacity": 0.2},
   "encoding": {"x": {"datum": {"year": 2020, "month": 6, "date": 25, "hours": 16}, "axis": null}, "x2": {"datum": {"year": 2020, "month": 6, "date": 26, "hours": 8, "minutes": 10}}}},
  {"data": {"values": [{}]}, "mark": {"type": "text", "align": "right", "baseline": "top", "dx": -3, "dy": 3, "fontSize": 11.5, "color": "#222"},
   "encoding": {"x": {"datum": {"year": 2020, "month": 6, "date": 27}, "axis": null}, "y": {"datum": 90, "axis": {"orient": "right", "labels": false, "title": null, "values": [-90, -45, 0, 45, 90]}}, "text": {"value": "(c)"}}}
 ],
 "resolve": {"axis": {"y": "independent"}}
},
{
 "width": 552, "height": 104,
 "layer": [
  {"data": {"values": [{"r": 90}, {"r": 270}]}, "mark": {"type": "rule", "color": "#b01c1c", "strokeWidth": 1},
   "encoding": {"y": {"field": "r", "type": "quantitative", "axis": null}}},
  {"mark": {"type": "circle", "color": "black", "size": 5, "opacity": 1},
   "encoding": {
    "x": {"field": "t", "type": "temporal", "scale": {"domain": [{"year": 2020, "month": 6, "date": 25}, {"year": 2020, "month": 6, "date": 27}]}, "axis": null},
    "y": {"field": "ph", "type": "quantitative", "scale": {"domain": [0, 360]}, "axis": {"values": [0, 90, 180, 270], "title": "φʙ [°]"}}}},
  {"data": {"values": [{}]}, "mark": {"type": "rect", "color": "gray", "opacity": 0.2},
   "encoding": {"x": {"datum": {"year": 2020, "month": 6, "date": 25, "hours": 16}, "axis": null}, "x2": {"datum": {"year": 2020, "month": 6, "date": 26, "hours": 8, "minutes": 10}}}},
  {"data": {"values": [{}]}, "mark": {"type": "text", "align": "right", "baseline": "top", "dx": -3, "dy": 3, "fontSize": 11.5, "color": "#222"},
   "encoding": {"x": {"datum": {"year": 2020, "month": 6, "date": 27}, "axis": null}, "y": {"datum": 360, "axis": {"orient": "right", "labels": false, "title": null, "values": [0, 90, 180, 270]}}, "text": {"value": "(d)"}}}
 ],
 "resolve": {"axis": {"y": "independent"}}
},
{
 "width": 552, "height": 104,
 "layer": [
  {"mark": {"type": "line", "color": "black", "strokeWidth": 1, "invalid": "break-paths-filter-domains"},
   "encoding": {
    "x": {"field": "t", "type": "temporal", "scale": {"domain": [{"year": 2020, "month": 6, "date": 25}, {"year": 2020, "month": 6, "date": 27}]}, "axis": null},
    "y": {"field": "V", "type": "quantitative", "scale": {"domain": [261, 331]}, "axis": {"values": [280, 300, 320], "title": "V [km·s⁻¹]"}}}},
  {"data": {"values": [{}]}, "mark": {"type": "rect", "color": "gray", "opacity": 0.2},
   "encoding": {"x": {"datum": {"year": 2020, "month": 6, "date": 25, "hours": 16}, "axis": null}, "x2": {"datum": {"year": 2020, "month": 6, "date": 26, "hours": 8, "minutes": 10}}}},
  {"data": {"values": [{}]}, "mark": {"type": "text", "align": "right", "baseline": "top", "dx": -3, "dy": 3, "fontSize": 11.5, "color": "#222"},
   "encoding": {"x": {"datum": {"year": 2020, "month": 6, "date": 27}, "axis": null}, "y": {"datum": 331, "axis": {"orient": "right", "labels": false, "title": null, "values": [280, 300, 320]}}, "text": {"value": "(e)"}}}
 ],
 "resolve": {"axis": {"y": "independent"}}
},
{
 "width": 552, "height": 104,
 "layer": [
  {"mark": {"type": "line", "color": "black", "strokeWidth": 1, "invalid": "break-paths-filter-domains"},
   "encoding": {
    "x": {"field": "t", "type": "temporal", "scale": {"domain": [{"year": 2020, "month": 6, "date": 25}, {"year": 2020, "month": 6, "date": 27}]}, "axis": null},
    "y": {"field": "Np", "type": "quantitative", "scale": {"domain": [10, 128]}, "axis": {"values": [25, 50, 75, 100, 125], "title": "Nₚ [cm⁻³]"}}}},
  {"data": {"values": [{}]}, "mark": {"type": "rect", "color": "gray", "opacity": 0.2},
   "encoding": {"x": {"datum": {"year": 2020, "month": 6, "date": 25, "hours": 16}, "axis": null}, "x2": {"datum": {"year": 2020, "month": 6, "date": 26, "hours": 8, "minutes": 10}}}},
  {"data": {"values": [{}]}, "mark": {"type": "text", "align": "right", "baseline": "top", "dx": -3, "dy": 3, "fontSize": 11.5, "color": "#222"},
   "encoding": {"x": {"datum": {"year": 2020, "month": 6, "date": 27}, "axis": null}, "y": {"datum": 128, "axis": {"orient": "right", "labels": false, "title": null, "values": [25, 50, 75, 100, 125]}}, "text": {"value": "(f)"}}}
 ],
 "resolve": {"axis": {"y": "independent"}}
},
{
 "width": 552, "height": 104,
 "layer": [
  {"mark": {"type": "line", "color": "black", "strokeWidth": 1, "invalid": "break-paths-filter-domains"},
   "encoding": {
    "x": {"field": "t", "type": "temporal", "scale": {"domain": [{"year": 2020, "month": 6, "date": 25}, {"year": 2020, "month": 6, "date": 27}]},
      "axis": {"orient": "bottom", "title": null, "format": "%H:%M", "labelFlush": false, "labelPadding": 3, "tickSize": 4, "labelFontSize": 10.5,
        "values": [{"year": 2020, "month": 6, "date": 25, "hours": 0}, {"year": 2020, "month": 6, "date": 25, "hours": 6}, {"year": 2020, "month": 6, "date": 25, "hours": 12}, {"year": 2020, "month": 6, "date": 25, "hours": 18}, {"year": 2020, "month": 6, "date": 26, "hours": 0}, {"year": 2020, "month": 6, "date": 26, "hours": 6}, {"year": 2020, "month": 6, "date": 26, "hours": 12}, {"year": 2020, "month": 6, "date": 26, "hours": 18}, {"year": 2020, "month": 6, "date": 27, "hours": 0}]}},
    "y": {"field": "Tp", "type": "quantitative", "scale": {"domain": [3, 148]}, "axis": {"values": [50, 100], "title": "Tₚ [10³ K]"}}}},
  {"data": {"values": [{}]}, "mark": {"type": "rect", "color": "gray", "opacity": 0.2},
   "encoding": {"x": {"datum": {"year": 2020, "month": 6, "date": 25, "hours": 16}, "axis": null}, "x2": {"datum": {"year": 2020, "month": 6, "date": 26, "hours": 8, "minutes": 10}}}},
  {"data": {"values": [{}]}, "mark": {"type": "text", "align": "right", "baseline": "top", "dx": -3, "dy": 3, "fontSize": 11.5, "color": "#222"},
   "encoding": {"x": {"datum": {"year": 2020, "month": 6, "date": 27},
      "axis": {"orient": "bottom", "title": null, "format": "%Y-%m-%d", "ticks": false, "domain": false, "labelFlush": false, "labelPadding": 19, "labelFontSize": 14, "labelColor": "#111",
        "values": [{"year": 2020, "month": 6, "date": 25}, {"year": 2020, "month": 6, "date": 26}, {"year": 2020, "month": 6, "date": 27}]}},
    "y": {"datum": 148, "axis": {"orient": "right", "labels": false, "title": null, "values": [50, 100]}}, "text": {"value": "(g)"}}}
 ],
 "resolve": {"axis": {"x": "independent", "y": "independent"}}
}
]
}
